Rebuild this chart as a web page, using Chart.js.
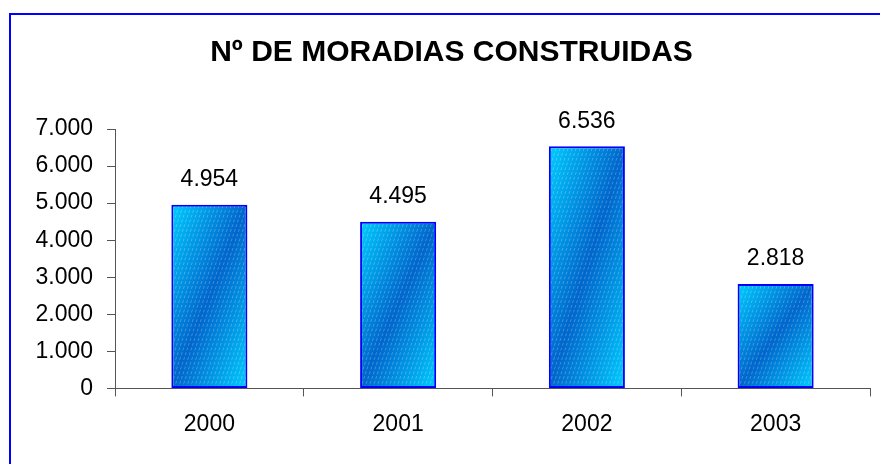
<!DOCTYPE html>
<html>
<head>
<meta charset="utf-8">
<script src="https://cdn.jsdelivr.net/npm/chart.js@4/dist/chart.umd.min.js"></script>
<style>
  html, body { margin: 0; padding: 0; background: #fff; overflow: hidden; }
  #moldura { position: absolute; left: 9px; top: 13px; width: 900px; height: 480px; border: 2px solid #0000ff; }
  #caixa { position: absolute; left: 0; top: 0; width: 880px; height: 464px; }
</style>
</head>
<body>
<div id="moldura"></div>
<div id="caixa"><canvas id="grafico"></canvas></div>
<script>
const anos = ["2000", "2001", "2002", "2003"];
const moradias = [4954, 4495, 6536, 2818];
const ticksY = [0, 1000, 2000, 3000, 4000, 5000, 6000, 7000];

const LARGURA_BARRA = 0.403;
const FONTE = "'Liberation Sans', Arial, sans-serif";

function formatar(v) {
  return String(v).replace(/\B(?=(\d{3})+(?!\d))/g, ".");
}

// preenchimento tipo Excel: degradê diagonal + tracejado fino
function preenchimento(context) {
  const chart = context.chart;
  if (!chart.chartArea || context.type !== "data") return "#0099e6";
  const sx = chart.scales.x, sy = chart.scales.y;
  const i = context.dataIndex;
  const cx = sx.getPixelForValue(i);
  const w = (sx.width / anos.length) * LARGURA_BARRA;
  const x0 = cx - w / 2, x1 = cx + w / 2;
  const y0 = sy.getPixelForValue(moradias[i]), y1 = sy.getPixelForValue(0);
  const h = y1 - y0;

  const off = document.createElement("canvas");
  off.width = chart.width;
  off.height = chart.height;
  const c = off.getContext("2d");

  const mx = (x0 + x1) / 2, my = (y0 + y1) / 2;
  const len = Math.sqrt(w * w + h * h);
  const k = (w * h) / len;
  const nx = h / len, ny = w / len;
  const g = c.createLinearGradient(mx - k * nx, my - k * ny, mx + k * nx, my + k * ny);
  g.addColorStop(0, "#00ccff");
  g.addColorStop(0.5, "#0066cc");
  g.addColorStop(1, "#00ccff");
  c.fillStyle = g;
  c.fillRect(x0, y0, w, h);

  c.save();
  c.beginPath();
  c.rect(x0, y0, w, h);
  c.clip();
  c.strokeStyle = "rgba(255,255,255,0.25)";
  c.lineWidth = 1;
  c.setLineDash([3, 2]);
  for (let x = x0 - h / 3; x < x1 + 4; x += 4) {
    c.beginPath();
    c.moveTo(x, y1);
    c.lineTo(x + h / 3, y0);
    c.stroke();
  }
  c.restore();

  return c.createPattern(off, "no-repeat");
}

const rotulos = {
  id: "rotulos",
  afterDatasetsDraw(chart) {
    const ctx = chart.ctx;
    const meta = chart.getDatasetMeta(0);
    ctx.save();
    ctx.font = "23px " + FONTE;
    ctx.fillStyle = "#000";
    ctx.textAlign = "center";
    ctx.textBaseline = "middle";
    meta.data.forEach((el, i) => {
      ctx.fillText(formatar(moradias[i]), el.x, el.y - 25);
    });
    ctx.restore();
  }
};

new Chart(document.getElementById("grafico"), {
  type: "bar",
  data: {
    labels: anos,
    datasets: [{
      label: "Moradias",
      data: moradias,
      backgroundColor: preenchimento,
      borderColor: "#0000ff",
      borderWidth: 2,
      borderSkipped: false,
      categoryPercentage: 1,
      barPercentage: LARGURA_BARRA
    }]
  },
  options: {
    responsive: true,
    maintainAspectRatio: false,
    animation: false,
    layout: { padding: { left: 33, right: 10, top: 0, bottom: 12 } },
    plugins: {
      legend: { display: false },
      tooltip: { enabled: false },
      title: {
        display: true,
        text: "Nº DE MORADIAS CONSTRUIDAS",
        color: "#000",
        font: { family: FONTE, size: 30, weight: "bold" },
        padding: { top: 35, bottom: 58 }
      }
    },
    scales: {
      x: {
        grid: { display: true, drawOnChartArea: false, drawTicks: true, tickLength: 8, color: "#555", offset: true },
        border: { display: true, color: "#555", width: 1 },
        ticks: { color: "#000", padding: 14, font: { family: FONTE, size: 23 } }
      },
      y: {
        min: 0,
        max: 7000,
        afterBuildTicks: axis => { axis.ticks = ticksY.map(v => ({ value: v })); },
        afterFit: axis => { axis.width = 82; },
        grid: { display: true, drawOnChartArea: false, drawTicks: true, tickLength: 8, color: "#555" },
        border: { display: true, color: "#555", width: 1 },
        ticks: {
          color: "#000",
          padding: 14,
          font: { family: FONTE, size: 23 },
          callback: v => formatar(v)
        }
      }
    }
  },
  plugins: [rotulos]
});
</script>
</body>
</html>
